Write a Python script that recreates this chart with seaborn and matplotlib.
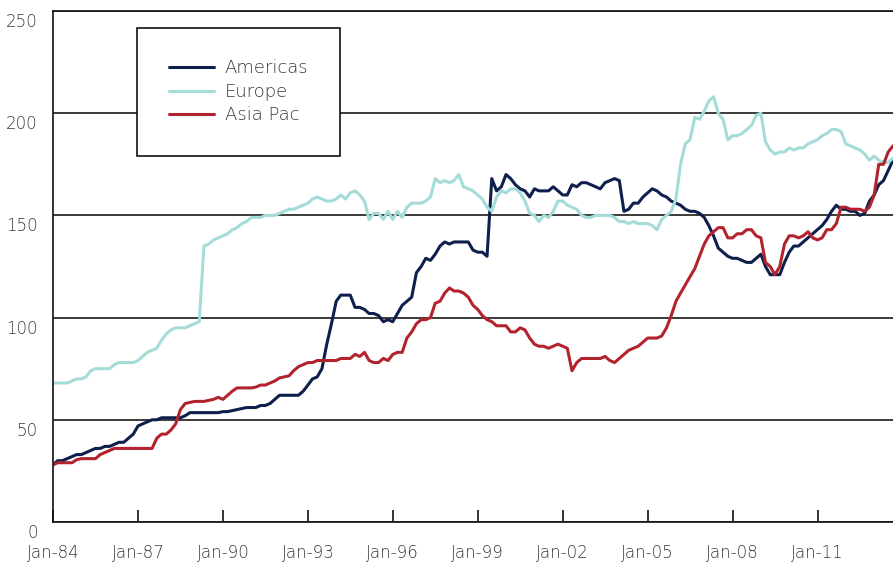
import pandas as pd
import matplotlib
matplotlib.use("Agg")
import matplotlib.pyplot as plt
import matplotlib.dates as mdates
from matplotlib.transforms import ScaledTranslation
import seaborn as sns

# =========================
# Data (index levels, every two months, Jan-84 to Sep-13)
# =========================

dates = pd.date_range("1984-01-01", "2013-09-01", freq="2MS")
tick_dates = pd.date_range("1984-01-01", "2011-01-01", freq="36MS")

americas = [
    28, 30, 30, 31, 32, 33,            # 1984
    33, 34, 35, 36, 36, 37,            # 1985
    37, 38, 39, 39, 41, 43,            # 1986
    47, 48, 49, 50, 50, 51,            # 1987
    51, 51, 51, 51, 52, 53.5,          # 1988
    53.5, 53.5, 53.5, 53.5, 53.5, 53.5,  # 1989
    54, 54, 54.5, 55, 55.5, 56,        # 1990
    56, 56, 57, 57, 58, 60,            # 1991
    62, 62, 62, 62, 62, 64,            # 1992
    67, 70, 71, 75, 87, 97,            # 1993
    108, 111, 111, 111, 105, 105,      # 1994
    104, 102, 102, 101, 98, 99,        # 1995
    98, 102, 106, 108, 110, 122,       # 1996
    125, 129, 128, 131, 135, 137,      # 1997
    136, 137, 137, 137, 137, 133,      # 1998
    132, 132, 130, 168, 162, 164,      # 1999
    170, 168, 165, 163, 162, 159,      # 2000
    163, 162, 162, 162, 164, 162,      # 2001
    160, 160, 165, 164, 166, 166,      # 2002
    165, 164, 163, 166, 167, 168,      # 2003
    167, 152, 153, 156, 156, 159,      # 2004
    161, 163, 162, 160, 159, 157,      # 2005
    156, 155, 153, 152, 152, 151,      # 2006
    149, 145, 140, 134, 132, 130,      # 2007
    129, 129, 128, 127, 127, 129,      # 2008
    131, 125, 121, 121, 121, 127,      # 2009
    132, 135, 135, 137, 139, 141,      # 2010
    143, 145, 148, 152, 155, 153,      # 2011
    153, 152, 152, 150, 151, 157,      # 2012
    160, 165, 167, 172, 177,           # 2013
]

europe = [
    68, 68, 68, 68, 69, 70,            # 1984
    70, 71, 74, 75, 75, 75,            # 1985
    75, 77, 78, 78, 78, 78,            # 1986
    79, 81, 83, 84, 85, 89,            # 1987
    92, 94, 95, 95, 95, 96,            # 1988
    97, 98, 135, 136, 138, 139,        # 1989
    140, 141, 143, 144, 146, 147,      # 1990
    149, 149, 149, 150, 150, 150,      # 1991
    151, 152, 153, 153, 154, 155,      # 1992
    156, 158, 159, 158, 157, 157,      # 1993
    158, 160, 158, 161, 162, 160,      # 1994
    157, 148, 151, 151, 148, 152,      # 1995
    148, 152, 149, 154, 156, 156,      # 1996
    156, 157, 159, 168, 166, 167,      # 1997
    166, 167, 170, 164, 163, 162,      # 1998
    160, 158, 154, 152, 159, 162,      # 1999
    161, 163, 163, 161, 157, 151,      # 2000
    150, 147, 150, 149, 152, 157,      # 2001
    157, 155, 154, 153, 150, 149,      # 2002
    149, 150, 150, 150, 150, 149,      # 2003
    147, 147, 146, 147, 146, 146,      # 2004
    146, 145, 143, 148, 150, 152,      # 2005
    158, 175, 185, 187, 198, 197,      # 2006
    201, 206, 208, 200, 197, 187,      # 2007
    189, 189, 190, 192, 194, 199,      # 2008
    200, 186, 182, 180, 181, 181,      # 2009
    183, 182, 183, 183, 185, 186,      # 2010
    187, 189, 190, 192, 192, 191,      # 2011
    185, 184, 183, 182, 180, 177,      # 2012
    179, 177, 176, 176, 178,           # 2013
]

asia_pac = [
    28, 29, 29, 29, 29, 30.5,          # 1984
    31, 31, 31, 31, 33, 34,            # 1985
    35, 36, 36, 36, 36, 36,            # 1986
    36, 36, 36, 36, 41, 43,            # 1987
    43, 45, 48, 55, 58, 58.5,          # 1988
    59, 59, 59, 59.5, 60, 61,          # 1989
    60, 62, 64, 65.6, 65.6, 65.6,      # 1990
    65.6, 66, 67, 67, 68, 69,          # 1991
    70.5, 71, 71.5, 74, 76, 77,        # 1992
    78, 78, 79, 79, 79, 79,            # 1993
    79, 80, 80, 80, 82, 81,            # 1994
    83, 79, 78, 78, 80, 79,            # 1995
    82, 83, 83, 90, 93, 97,            # 1996
    99, 99, 100, 107, 108, 112,        # 1997
    114.5, 113, 113, 112, 110, 106,    # 1998
    104, 101, 99, 98, 96, 96,          # 1999
    96, 93, 93, 95, 94, 90,            # 2000
    87, 86, 86, 85, 86, 87,            # 2001
    86, 85, 74, 78, 80, 80,            # 2002
    80, 80, 80, 81, 79, 78,            # 2003
    80, 82, 84, 85, 86, 88,            # 2004
    90, 90, 90, 91, 95, 101,           # 2005
    108, 112, 116, 120, 124, 130,      # 2006
    136, 140, 142, 144, 144, 139,      # 2007
    139, 141, 141, 143, 143, 140,      # 2008
    139, 127, 125, 121, 125, 136,      # 2009
    140, 140, 139, 140, 142, 139,      # 2010
    138, 139, 143, 143, 146, 154,      # 2011
    154, 153, 153, 153, 152, 154,      # 2012
    160, 175, 175, 181, 184,           # 2013
]

regions = ["Americas", "Europe", "Asia Pac"]
colors = ["#0e1f4d", "#a4dcd8", "#b3232e"]

df = pd.DataFrame({"date": dates, "Americas": americas, "Europe": europe, "Asia Pac": asia_pac})
df = df.melt(id_vars="date", var_name="region", value_name="value")

# =========================
# Plot
# =========================

sns.set_style("white")
plt.rcParams["font.family"] = ["DejaVu Sans"]
plt.rcParams["font.weight"] = "light"
text_color = "#3a3a3a"

fig = plt.figure(figsize=(8.93, 5.63), dpi=100)
ax = fig.add_axes([0.0594, 0.0728, 0.9406, 0.9077])

sns.lineplot(data=df, x="date", y="value", hue="region", hue_order=regions,
             palette=colors, linewidth=2.2, ax=ax)

ax.set_xlim(dates[0], dates[-1])
ax.set_ylim(0, 250)
ax.set_yticks(range(0, 251, 50))
ax.set_xticks(tick_dates)
ax.xaxis.set_major_formatter(mdates.DateFormatter("%b-%y"))
ax.set_xlabel("")
ax.set_ylabel("")

ax.yaxis.grid(True, color="#1a1a1a", linewidth=1.2)
ax.xaxis.grid(False)

for side in ["top", "left", "bottom"]:
    ax.spines[side].set_color("#111111")
    ax.spines[side].set_linewidth(1.2)
ax.spines["right"].set_visible(False)

ax.tick_params(axis="x", direction="in", length=9, width=1.2, color="#111111",
               pad=16, labelsize=12, labelcolor=text_color, bottom=True)
ax.tick_params(axis="y", length=0, pad=11, labelsize=12, labelcolor=text_color)

# y labels sit a little below their gridline
offset = ScaledTranslation(0, -9 / 100, fig.dpi_scale_trans)
for label in ax.get_yticklabels():
    label.set_transform(label.get_transform() + offset)

handles, labels = ax.get_legend_handles_labels()
leg = ax.legend(handles, labels, loc="upper left", bbox_to_anchor=(0.1, 0.967),
                frameon=True, fancybox=False, edgecolor="#111111", framealpha=1,
                borderpad=1.75, handlelength=2.5, handletextpad=0.6,
                labelspacing=0.3, fontsize=13, borderaxespad=0)
leg.get_frame().set_linewidth(1.2)
for t in leg.get_texts():
    t.set_color(text_color)

fig.savefig("out.png", dpi=100)
